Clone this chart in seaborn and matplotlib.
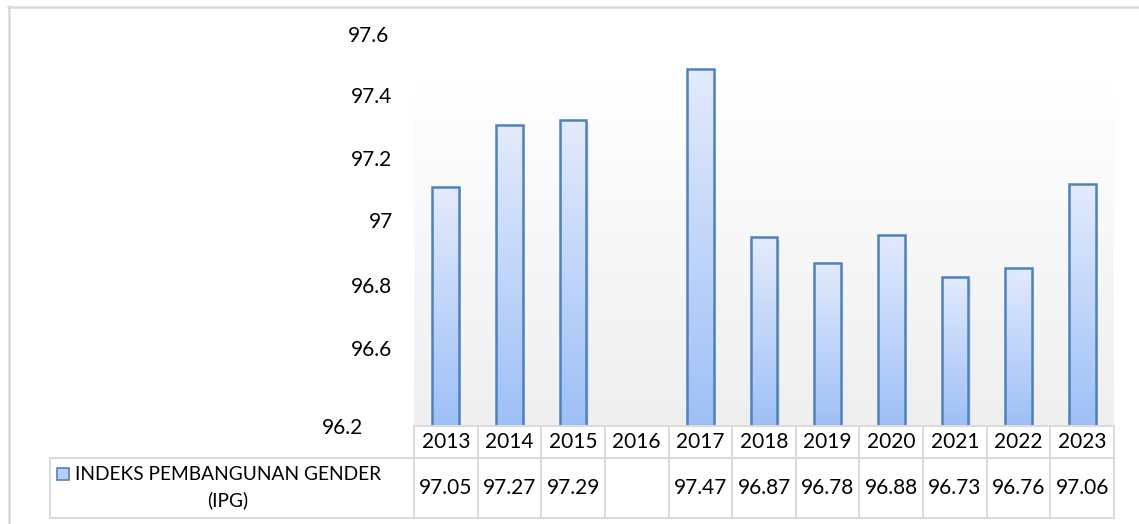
import numpy as np
import pandas as pd
import matplotlib
matplotlib.use("Agg")
import matplotlib.pyplot as plt
import seaborn as sns
from matplotlib.lines import Line2D
from matplotlib.patches import Rectangle
from matplotlib.transforms import blended_transform_factory

# ---- data ----
years = ["2013", "2014", "2015", "2016", "2017", "2018", "2019", "2020", "2021", "2022", "2023"]
ipg = [97.05, 97.27, 97.29, None, 97.47, 96.87, 96.78, 96.88, 96.73, 96.76, 97.06]
series_name = "INDEKS PEMBANGUNAN GENDER\n(IPG)"
ytick_labels = ["97.6", "97.4", "97.2", "97", "96.8", "96.6", "96.2"]

# ---- style ----
sns.set_style("white")
plt.rcParams["font.family"] = ["Lato", "DejaVu Sans"]
FS = 15
W, H = 1139, 524
fig = plt.figure(figsize=(W / 100, H / 100), dpi=100)
fig.patch.set_facecolor("white")

YMIN, YMAX = 96.2, 97.6
px_per_unit = 280.0
# where the reference draws its axis labels (pixel rows / right edges)
label_rows = [36, 97, 160, 222, 287, 350, 428]
label_right = [389, 392, 392, 393, 392, 392, 363]
ytick_pos = [YMIN + (425 - r) / px_per_unit for r in label_rows]

ax = fig.add_axes([414 / W, (524 - 425) / H, 700 / W, (425 - 33) / H])
ax.set_xlim(-0.5, 10.5)
ax.set_ylim(YMIN, YMAX)

# plot-area background gradient
bg_top = YMIN + (425 - 77) / px_per_unit
g = np.linspace(0, 1, 256)[:, None]
top_c = np.array([1.0, 1.0, 1.0])
bot_c = np.array([0xEF, 0xEF, 0xEF]) / 255
bg = (top_c * (1 - g) + bot_c * g)[:, None, :].repeat(2, axis=1)
ax.imshow(bg, extent=[-0.5, 10.5, YMIN, bg_top], aspect="auto", zorder=0,
          interpolation="bilinear")

df = pd.DataFrame({"year": years, "ipg": [np.nan if v is None else v for v in ipg]})
sns.barplot(data=df, x="year", y="ipg", order=years, width=0.42, color="#c9daf8",
            edgecolor="#4f81bd", linewidth=1.8, ax=ax, zorder=2, errorbar=None)

# gradient fill per bar
bar_top = np.array([0xE3, 0xEB, 0xFC]) / 255
bar_bot = np.array([0x9E, 0xC0, 0xF7]) / 255
grad = (bar_top * (1 - g) + bar_bot * g)[:, None, :].repeat(2, axis=1)
for p in list(ax.patches):
    h = p.get_height()
    if not np.isfinite(h) or h == 0:
        continue
    x0 = p.get_x()
    w = p.get_width()
    top = p.get_y() + h
    sh = Rectangle((x0 + 0.035, YMIN), w, top - YMIN - 0.01, facecolor="#000000",
                   alpha=0.08, edgecolor="none", zorder=1.4)
    ax.add_patch(sh)
    ax.imshow(grad, extent=[x0, x0 + w, YMIN, top], aspect="auto",
              zorder=1.5, interpolation="bilinear")
    p.set_facecolor("none")

ax.set_xlim(-0.5, 10.5)
ax.set_ylim(YMIN, YMAX)
ax.set_yticks([])
ax.set_xticks([])
ax.set_xlabel("")
ax.set_ylabel("")
for s in ax.spines.values():
    s.set_visible(False)
ax.patch.set_alpha(0)

# axis value labels
trans = blended_transform_factory(fig.transFigure, ax.transData)
for lab, pos, rx in zip(ytick_labels, ytick_pos, label_right):
    ax.text(rx / W, pos, lab, transform=trans, ha="right", va="center",
            fontsize=FS, color="black", clip_on=False)

# ---- data table ----
col_w = 700 / 11
left_units = (414 - 50) / col_w
tax = fig.add_axes([50 / W, (524 - 518) / H, 1064 / W, 92 / H])
tax.set_xlim(-0.5 - left_units, 10.5)
tax.set_ylim(0, 92)
tax.axis("off")
lc = "#d9d9d9"
lw = 1.4
tax.plot([-0.5, 10.5], [92, 92], color=lc, lw=lw, clip_on=False)
tax.plot([-0.5 - left_units, 10.5], [60, 60], color=lc, lw=lw, clip_on=False)
tax.plot([-0.5 - left_units, 10.5], [0, 0], color=lc, lw=lw, clip_on=False)
for i in range(12):
    tax.plot([-0.5 + i, -0.5 + i], [0, 92], color=lc, lw=lw, clip_on=False)
tax.plot([-0.5 - left_units] * 2, [0, 60], color=lc, lw=lw, clip_on=False)

for i, (yr, v) in enumerate(zip(years, ipg)):
    tax.text(i, 76, yr, ha="center", va="center", fontsize=FS, color="black")
    if v is not None:
        tax.text(i, 30, f"{v:.2f}", ha="center", va="center", fontsize=FS, color="black")

# legend cell
cx = -0.5 - left_units + (228 - 50) / col_w
tax.text(cx, 30, series_name, ha="center", va="center", fontsize=13.8, color="black",
         linespacing=1.55, multialignment="center")
sq_x = -0.5 - left_units + (57 - 50) / col_w
key = Rectangle((sq_x, 518 - 480), 12 / col_w, 12, facecolor="#b8cff5",
                edgecolor="#4f81bd", lw=1.2, clip_on=False, zorder=3)
tax.add_patch(key)

# outer chart border (top and left visible)
fig.add_artist(Line2D([8 / W, 1.0], [1 - 6.5 / H, 1 - 6.5 / H], color="#d9d9d9", lw=1.8))
fig.add_artist(Line2D([8.5 / W, 8.5 / W], [0, 1 - 6 / H], color="#d9d9d9", lw=1.8))

fig.savefig("out.png", dpi=100, facecolor="white")
